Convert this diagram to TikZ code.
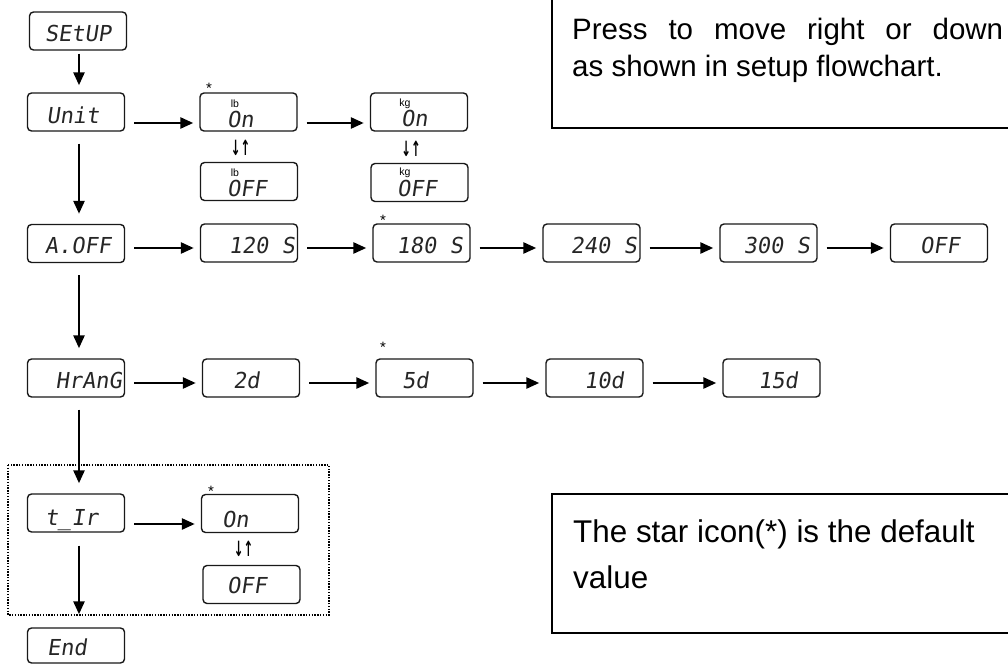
\documentclass[tikz,border=0pt]{standalone}
\usepackage{fontspec}
\setmainfont{Liberation Sans}
\newfontfamily\lcdfont[FakeSlant=0.15]{DejaVu Sans Mono}
\newfontfamily\arrfont[FakeStretch=0.55]{DejaVu Sans}
\usetikzlibrary{arrows.meta}
\begin{document}
\begin{tikzpicture}[x=1bp,y=-1bp,
  disp/.style={draw=black!90, line width=1.4bp, rounded corners=4bp, minimum width=97bp, minimum height=38bp, inner sep=0pt},
  lcd/.style={font=\lcdfont\fontsize{22bp}{22bp}\selectfont, text=black!85, inner sep=0pt},
  unitlbl/.style={font=\fontsize{10.5bp}{10.5bp}\selectfont, inner sep=0pt},
  star/.style={font=\fontsize{15bp}{15bp}\selectfont, inner sep=0pt},
  swap/.style={font=\arrfont\bfseries\fontsize{21bp}{21bp}\selectfont, inner sep=0pt},
  arr/.style={line width=2.6bp, -{Triangle[length=13bp,width=11bp]}},
  harr/.style={arr, shorten <=9bp, shorten >=6bp},
  varr/.style={arr, shorten <=12bp, shorten >=10bp},
  note/.style={font=\fontsize{29.5bp}{35bp}\selectfont, inner sep=0pt, anchor=base west},
  note2/.style={font=\fontsize{31.4bp}{37bp}\selectfont, inner sep=0pt, anchor=base west},
]
\useasboundingbox (0,0) rectangle (1008,664);

% note boxes
\draw[line width=2bp] (1020,128) -| (552,-10);
\draw[line width=2bp] (1020,494) -| (552,633) -- (1020,633);
\node[note] (n1a) at (572,40) {\hbox to 431bp{Press\hfill to\hfill move\hfill right\hfill or\hfill down}};
\node[note] (n1b) at (572,77) {as shown in setup flowchart.};
\node[note2] (n2a) at (573,542) {The star icon(*) is the default};
\node[note2] (n2b) at (573,588) {value};

% dotted frame
\draw[line width=2bp, dash pattern=on 1.4bp off 1.4bp] (8,465) rectangle (329,615);

% left column
\node[disp] (setup) at (78,31) {};
\node[lcd, anchor=base] (setupT) at (78,42) {SEtUP};
\node[disp] (unit) at (76,112) {};
\node[lcd, anchor=base] (unitT) at (73,124) {Unit};
\node[disp] (aoff) at (76,243.5) {};
\node[lcd, anchor=base] (aoffT) at (78,253) {A.OFF};
\node[disp] (hrang) at (76,378) {};
\node[lcd, anchor=base east] (hrangT) at (122,388) {HrAnG};
\node[disp] (tir) at (76,513) {};
\node[lcd, anchor=base west] (tirT) at (45,525) {t\_Ir};
\node[disp, minimum height=35bp] (end) at (76,645.5) {};
\node[lcd, anchor=base west] (endT) at (47,655) {End};

% unit row
\node[disp] (lbon) at (248.5,112) {};
\node[lcd, anchor=base west] (lbonT) at (227,128) {On};
\node[unitlbl] (lbonU) at (235,104) {lb};
\node[disp] (lboff) at (249,181.5) {};
\node[lcd, anchor=base west] (lboffT) at (227,197) {OFF};
\node[unitlbl] (lboffU) at (235,173) {lb};
\node[disp] (kgon) at (419,112) {};
\node[lcd, anchor=base west] (kgonT) at (401,127) {On};
\node[unitlbl] (kgonU) at (405,104) {kg};
\node[disp] (kgoff) at (419.5,182.5) {};
\node[lcd, anchor=base west] (kgoffT) at (397,197) {OFF};
\node[unitlbl] (kgoffU) at (405,172.5) {kg};
\node[star] (st1) at (209,88) {*};
\node[swap] (sw1) at (240.5,147.5) {↓↑};
\node[swap] (sw2) at (411,148.5) {↓↑};

% auto-off row
\node[disp] (s120) at (249,243) {};
\node[lcd, anchor=base east] (s120T) at (295,253) {120 S};
\node[disp] (s180) at (421.5,243) {};
\node[lcd, anchor=base east] (s180T) at (463,253) {180 S};
\node[disp] (s240) at (591.5,243) {};
\node[lcd, anchor=base east] (s240T) at (637,253) {240 S};
\node[disp] (s300) at (768.5,243) {};
\node[lcd, anchor=base east] (s300T) at (810,253) {300 S};
\node[disp] (soff) at (939,243) {};
\node[lcd, anchor=base west] (soffT) at (920,253) {OFF};
\node[star] (st2) at (383,220) {*};

% range row
\node[disp] (d2) at (251,378) {};
\node[lcd, anchor=base west] (d2T) at (233,388) {2d};
\node[disp] (d5) at (424.5,378) {};
\node[lcd, anchor=base west] (d5T) at (402,388) {5d};
\node[disp] (d10) at (594.5,378) {};
\node[lcd, anchor=base west] (d10T) at (584,388) {10d};
\node[disp] (d15) at (771.5,378) {};
\node[lcd, anchor=base west] (d15T) at (758,388) {15d};
\node[star] (st3) at (383,347) {*};

% t_Ir row
\node[disp] (ton) at (250,513.5) {};
\node[lcd, anchor=base west] (tonT) at (222,527) {On};
\node[disp] (toff) at (251.5,584.5) {};
\node[lcd, anchor=base west] (toffT) at (227,593) {OFF};
\node[star] (st4) at (211,491) {*};
\node[swap] (sw3) at (243.5,549) {↓↑};

% vertical arrows
\draw[arr, shorten <=3bp, shorten >=7bp] ([xshift=1bp]setup.south) -- ([xshift=1bp]setup.south |- unit.north);
\draw[varr] ([xshift=3bp]unit.south) -- ([xshift=3bp]unit.south |- aoff.north);
\draw[varr] ([xshift=3bp]aoff.south) -- ([xshift=3bp]aoff.south |- hrang.north);
\draw[varr] ([xshift=3bp]hrang.south) -- ([xshift=3bp]hrang.south |- tir.north);
\draw[arr, shorten <=13bp, shorten >=13bp] ([xshift=3bp]tir.south) -- ([xshift=3bp]tir.south |- end.north);

% horizontal arrows
\draw[harr] ([yshift=-11bp]unit.east) -- ([yshift=-11bp]unit.east -| lbon.west);
\draw[harr] ([yshift=-11bp]lbon.east) -- ([yshift=-11bp]lbon.east -| kgon.west);
\draw[harr] ([yshift=-4.5bp]aoff.east) -- ([yshift=-4.5bp]aoff.east -| s120.west);
\draw[harr] ([yshift=-5bp]s120.east) -- ([yshift=-5bp]s120.east -| s180.west);
\draw[harr] ([yshift=-5bp]s180.east) -- ([yshift=-5bp]s180.east -| s240.west);
\draw[harr] ([yshift=-5bp]s240.east) -- ([yshift=-5bp]s240.east -| s300.west);
\draw[harr] ([yshift=-5bp]s300.east) -- ([yshift=-5bp]s300.east -| soff.west);
\draw[harr] ([yshift=-5bp]hrang.east) -- ([yshift=-5bp]hrang.east -| d2.west);
\draw[harr] ([yshift=-5bp]d2.east) -- ([yshift=-5bp]d2.east -| d5.west);
\draw[harr] ([yshift=-5bp]d5.east) -- ([yshift=-5bp]d5.east -| d10.west);
\draw[harr] ([yshift=-5bp]d10.east) -- ([yshift=-5bp]d10.east -| d15.west);
\draw[harr] ([yshift=-11bp]tir.east) -- ([yshift=-11bp]tir.east -| ton.west);
\end{tikzpicture}
\end{document}
